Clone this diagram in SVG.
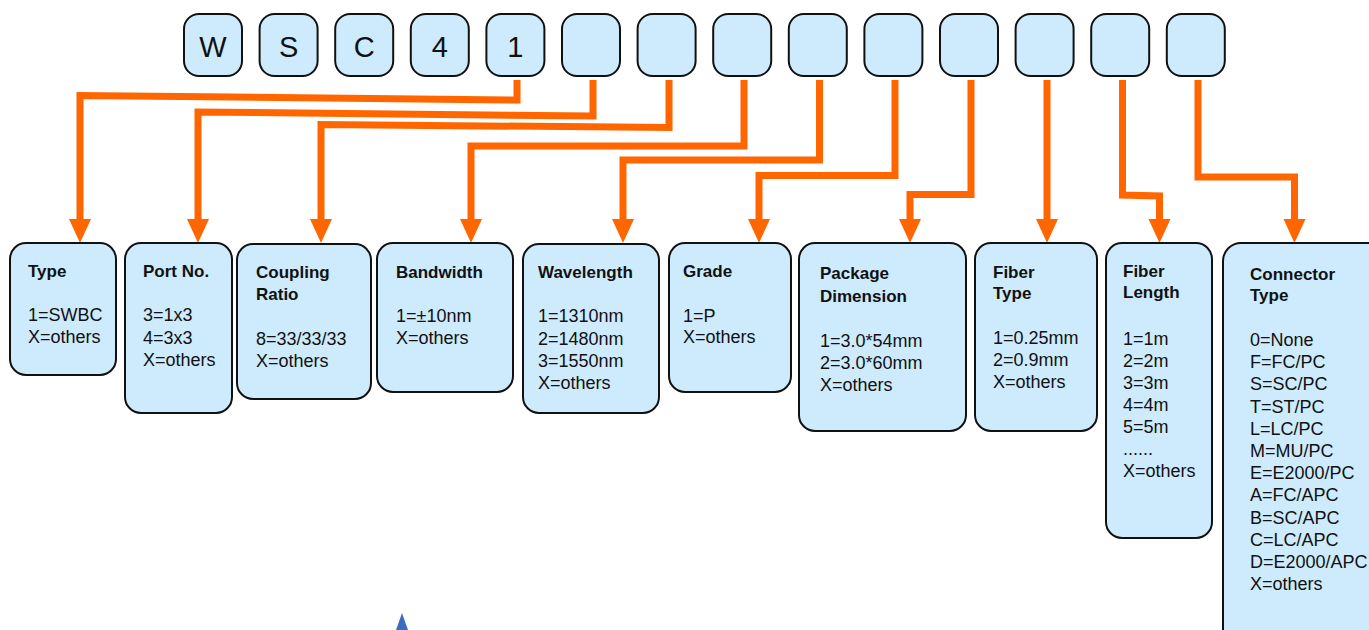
<svg xmlns="http://www.w3.org/2000/svg" width="1369" height="630" viewBox="0 0 1369 630">
<defs>
<style>
.box{fill:#cdebfd;stroke:#111;stroke-width:2}
.code{font-family:"Liberation Sans",Arial,sans-serif;font-size:29px;text-anchor:middle;fill:#111}
.t{font-family:"Liberation Sans",Arial,sans-serif;fill:#111}
.h{font-weight:bold;font-size:17px}
.b{font-size:18px}
.conn{fill:none;stroke:#ff6600;stroke-width:7;stroke-linejoin:miter;marker-end:url(#arr)}
</style>
<marker id="arr" markerUnits="userSpaceOnUse" markerWidth="26" markerHeight="24" refX="0" refY="11" orient="auto" viewBox="0 0 26 24" overflow="visible">
<path d="M0,0 L24,11 L0,22 z" fill="#ff6600"/>
</marker>
</defs>
<rect width="1369" height="630" fill="#fff"/>

<g id="code">
<g id="c0"><rect class="box" x="184" y="14" width="58" height="62" rx="15"/><text class="code" x="213" y="57">W</text></g>
<g id="c1"><rect class="box" x="259.6" y="14" width="58" height="62" rx="15"/><text class="code" x="288.6" y="57">S</text></g>
<g id="c2"><rect class="box" x="335.2" y="14" width="58" height="62" rx="15"/><text class="code" x="364.2" y="57">C</text></g>
<g id="c3"><rect class="box" x="410.8" y="14" width="58" height="62" rx="15"/><text class="code" x="439.8" y="57">4</text></g>
<g id="c4"><rect class="box" x="486.4" y="14" width="58" height="62" rx="15"/><text class="code" x="515.4" y="57">1</text></g>
<g id="c5"><rect class="box" x="562" y="14" width="58" height="62" rx="15"/></g>
<g id="c6"><rect class="box" x="637.6" y="14" width="58" height="62" rx="15"/></g>
<g id="c7"><rect class="box" x="713.2" y="14" width="58" height="62" rx="15"/></g>
<g id="c8"><rect class="box" x="788.8" y="14" width="58" height="62" rx="15"/></g>
<g id="c9"><rect class="box" x="864.4" y="14" width="58" height="62" rx="15"/></g>
<g id="c10"><rect class="box" x="940" y="14" width="58" height="62" rx="15"/></g>
<g id="c11"><rect class="box" x="1015.6" y="14" width="58" height="62" rx="15"/></g>
<g id="c12"><rect class="box" x="1091.2" y="14" width="58" height="62" rx="15"/></g>
<g id="c13"><rect class="box" x="1166.8" y="14" width="58" height="62" rx="15"/></g>
</g>

<g id="connectors">
<path class="conn" d="M517,80 V100 L80,95.5 V219"/>
<path class="conn" d="M593,80 V116 L198,112 V219"/>
<path class="conn" d="M669,80 V127.5 L321,124.5 V219"/>
<path class="conn" d="M744,80 V146 H471 V219"/>
<path class="conn" d="M819.5,80 V160 H623 V219"/>
<path class="conn" d="M895,80 V175.5 H759 V219"/>
<path class="conn" d="M971,80 V194.5 H910 V219"/>
<path class="conn" d="M1047,80 V219"/>
<path class="conn" d="M1122.5,80 V195 L1159.5,196 V219"/>
<path class="conn" d="M1198,80 V177 H1294.5 V219"/>
</g>

<g id="type">
<rect class="box" x="10" y="243" width="106" height="132" rx="16"/>
<text class="t h" x="28" y="277">Type</text>
<text class="t b" x="28" y="321">1=SWBC</text>
<text class="t b" x="28" y="343">X=others</text>
</g>
<g id="port">
<rect class="box" x="125" y="243" width="107" height="170" rx="16"/>
<text class="t h" x="143" y="277">Port No.</text>
<text class="t b" x="143" y="321">3=1x3</text>
<text class="t b" x="143" y="343.5">4=3x3</text>
<text class="t b" x="143" y="366">X=others</text>
</g>
<g id="coupling">
<rect class="box" x="237" y="244" width="134" height="155" rx="16"/>
<text class="t h" x="256" y="278">Coupling</text>
<text class="t h" x="256" y="300">Ratio</text>
<text class="t b" x="256" y="345">8=33/33/33</text>
<text class="t b" x="256" y="367">X=others</text>
</g>
<g id="bandwidth">
<rect class="box" x="377" y="243" width="136" height="149" rx="16"/>
<text class="t h" x="396" y="278">Bandwidth</text>
<text class="t b" x="396" y="322">1=±10nm</text>
<text class="t b" x="396" y="344">X=others</text>
</g>
<g id="wavelength">
<rect class="box" x="523" y="244" width="136" height="169" rx="16"/>
<text class="t h" x="538" y="278">Wavelength</text>
<text class="t b" x="538" y="322">1=1310nm</text>
<text class="t b" x="538" y="344.5">2=1480nm</text>
<text class="t b" x="538" y="367">3=1550nm</text>
<text class="t b" x="538" y="389">X=others</text>
</g>
<g id="grade">
<rect class="box" x="669" y="243" width="122" height="149" rx="16"/>
<text class="t h" x="683" y="277">Grade</text>
<text class="t b" x="683" y="322">1=P</text>
<text class="t b" x="683" y="343">X=others</text>
</g>
<g id="package">
<rect class="box" x="799" y="243" width="167" height="188" rx="16"/>
<text class="t h" x="820" y="279">Package</text>
<text class="t h" x="820" y="302">Dimension</text>
<text class="t b" x="820" y="347">1=3.0*54mm</text>
<text class="t b" x="820" y="369">2=3.0*60mm</text>
<text class="t b" x="820" y="391">X=others</text>
</g>
<g id="fibertype">
<rect class="box" x="975" y="243" width="122" height="188" rx="16"/>
<text class="t h" x="993" y="278">Fiber</text>
<text class="t h" x="993" y="299">Type</text>
<text class="t b" x="993" y="344">1=0.25mm</text>
<text class="t b" x="993" y="366">2=0.9mm</text>
<text class="t b" x="993" y="388">X=others</text>
</g>
<g id="fiberlength">
<rect class="box" x="1106" y="243" width="106" height="295" rx="16"/>
<text class="t h" x="1123" y="277">Fiber</text>
<text class="t h" x="1123" y="298">Length</text>
<text class="t b" x="1123" y="345">1=1m</text>
<text class="t b" x="1123" y="367">2=2m</text>
<text class="t b" x="1123" y="389">3=3m</text>
<text class="t b" x="1123" y="411">4=4m</text>
<text class="t b" x="1123" y="433">5=5m</text>
<text class="t b" x="1123" y="455">......</text>
<text class="t b" x="1123" y="477">X=others</text>
</g>
<g id="connectortype">
<rect class="box" x="1223" y="243" width="170" height="420" rx="18"/>
<text class="t h" x="1250" y="280">Connector</text>
<text class="t h" x="1250" y="301">Type</text>
<text class="t b" x="1250" y="346">0=None</text>
<text class="t b" x="1250" y="368">F=FC/PC</text>
<text class="t b" x="1250" y="390">S=SC/PC</text>
<text class="t b" x="1250" y="412.5">T=ST/PC</text>
<text class="t b" x="1250" y="434.5">L=LC/PC</text>
<text class="t b" x="1250" y="457">M=MU/PC</text>
<text class="t b" x="1250" y="479">E=E2000/PC</text>
<text class="t b" x="1250" y="501">A=FC/APC</text>
<text class="t b" x="1250" y="523.5">B=SC/APC</text>
<text class="t b" x="1250" y="545.5">C=LC/APC</text>
<text class="t b" x="1250" y="568">D=E2000/APC</text>
<text class="t b" x="1250" y="590">X=others</text>
</g>

<polygon points="402,613 396,630 408,630" fill="#3a6cc0"/>
</svg>
